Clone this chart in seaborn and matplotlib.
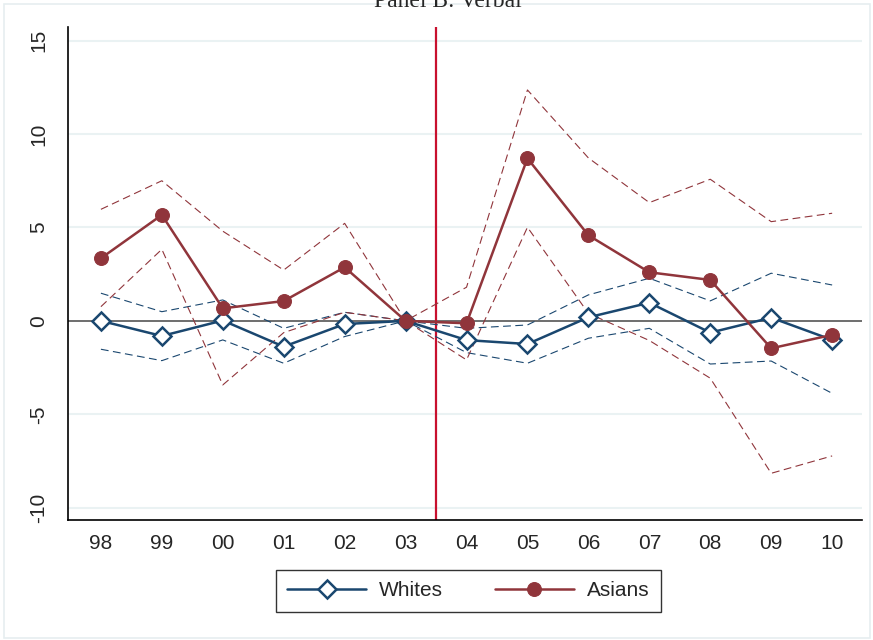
import numpy as np
import pandas as pd
import matplotlib
matplotlib.use("Agg")
import matplotlib.pyplot as plt
import seaborn as sns

years = ["98", "99", "00", "01", "02", "03", "04", "05", "06", "07", "08", "09", "10"]

whites = [0.0, -0.81, 0.02, -1.38, -0.17, 0.0, -1.03, -1.24, 0.19, 0.97, -0.63, 0.17, -1.02]
whites_hi = [1.48, 0.49, 1.12, -0.40, 0.46, 0.0, -0.40, -0.22, 1.39, 2.28, 1.07, 2.55, 1.92]
whites_lo = [-1.52, -2.13, -1.02, -2.27, -0.84, 0.0, -1.70, -2.27, -0.93, -0.40, -2.31, -2.15, -3.88]

asians = [3.35, 5.67, 0.67, 1.06, 2.87, 0.0, -0.13, 8.70, 4.58, 2.60, 2.19, -1.47, -0.75]
asians_hi = [5.97, 7.50, 4.80, 2.72, 5.22, 0.0, 1.80, 12.36, 8.72, 6.33, 7.58, 5.31, 5.76]
asians_lo = [0.76, 3.83, -3.43, -0.63, 0.46, 0.0, -2.09, 5.01, 0.40, -1.05, -3.07, -8.16, -7.23]

navy = "#1a476f"
maroon = "#90353b"

df = pd.DataFrame({"x": np.arange(len(years)),
                   "whites": whites, "whites_hi": whites_hi, "whites_lo": whites_lo,
                   "asians": asians, "asians_hi": asians_hi, "asians_lo": asians_lo})

sns.set_style("white")
plt.rcParams["font.family"] = ["Liberation Sans", "DejaVu Sans"]

fig = plt.figure(figsize=(8.73, 6.4), dpi=100)
ax = fig.add_axes([68 / 873, 1 - 520 / 640, (862 - 68) / 873, (520 - 27) / 640])

# faint outer frame like the Stata graph region
fig.patches.append(plt.Rectangle((4 / 873, 2 / 640), 866 / 873, 634 / 640,
                                 transform=fig.transFigure, fill=False,
                                 edgecolor="#e6eef0", linewidth=1.2))

for yv in [-10, -5, 5, 10, 15]:
    ax.axhline(yv, color="#eaf2f3", linewidth=1.5, zorder=0)
ax.axhline(0, color="#555555", linewidth=1.2, zorder=1)
# policy break between 03 and 04
ax.axvline(years.index("03") + 0.5, color="#c8102e", linewidth=1.6, zorder=1)

dash = (7, 4)
for col, c in [("whites_hi", navy), ("whites_lo", navy), ("asians_hi", maroon), ("asians_lo", maroon)]:
    sns.lineplot(data=df, x="x", y=col, ax=ax, color=c, linewidth=0.8,
                 dashes=False, zorder=2).lines[-1].set_dashes(dash)

sns.lineplot(data=df, x="x", y="whites", ax=ax, color=navy, linewidth=1.8,
             marker="D", markersize=9, markerfacecolor="white",
             markeredgecolor=navy, markeredgewidth=1.8, label="Whites", zorder=3)
sns.lineplot(data=df, x="x", y="asians", ax=ax, color=maroon, linewidth=1.8,
             marker="o", markersize=10, markerfacecolor=maroon,
             markeredgecolor=maroon, label="Asians", zorder=4)

ax.set_xlim(-0.54, 12.49)
ax.set_ylim(-10.66, 15.73)
ax.set_xticks(range(len(years)))
ax.set_xticklabels(years, fontsize=15)
ax.set_yticks([-10, -5, 0, 5, 10, 15])
ax.set_yticklabels(["-10", "-5", "0", "5", "10", "15"], fontsize=15, rotation=90, va="center")
ax.tick_params(axis="both", direction="out", length=6, width=1, color="black", pad=4)
ax.tick_params(axis="y", pad=8)
ax.set_xlabel("")
ax.set_ylabel("")
for s in ["top", "right"]:
    ax.spines[s].set_visible(False)
for s in ["left", "bottom"]:
    ax.spines[s].set_color("black")
    ax.spines[s].set_linewidth(1.2)

leg = ax.legend(loc="upper center", bbox_to_anchor=(0.504, -0.08), ncol=2,
                fontsize=15, frameon=True, fancybox=False, handlelength=3.8,
                columnspacing=2.5, borderpad=0.55, handletextpad=0.6)
leg.get_frame().set_edgecolor("black")
leg.get_frame().set_linewidth(1.0)

fig.text(448 / 873, 1 - 7 / 640, "Panel B: Verbal", family="Liberation Serif",
         fontsize=17, ha="center", va="baseline")

fig.savefig("out.png", dpi=100, facecolor="white")
